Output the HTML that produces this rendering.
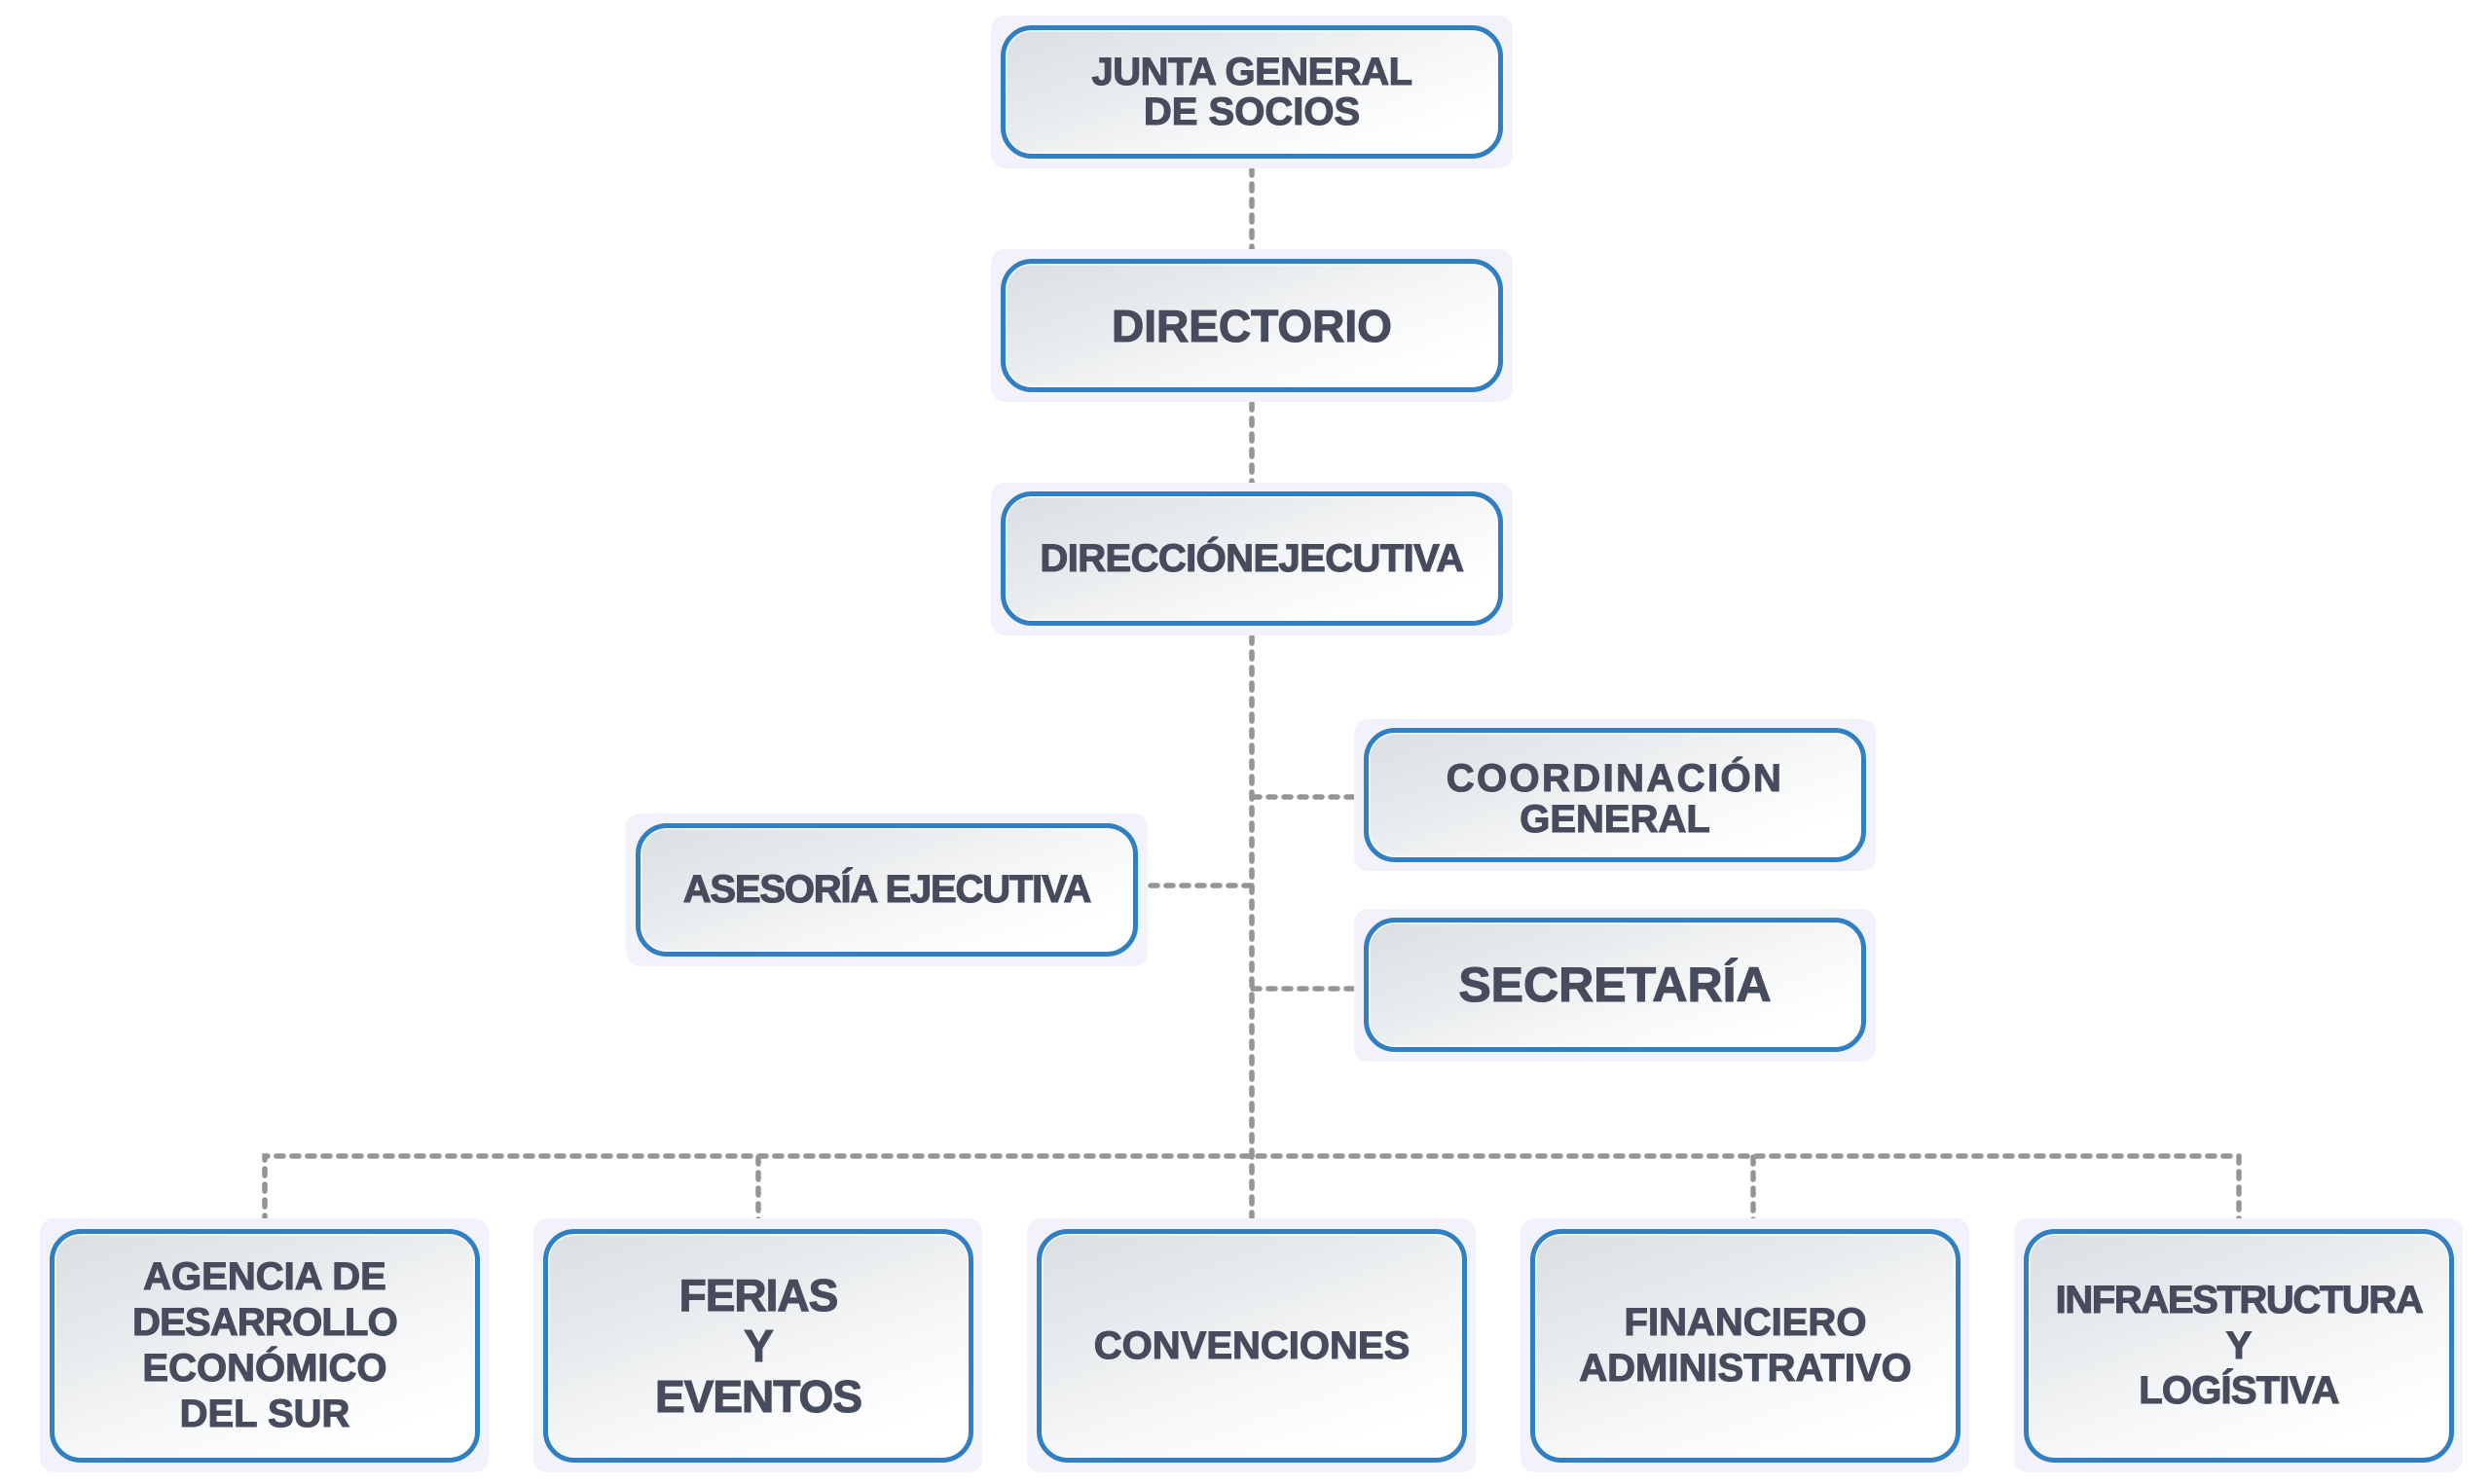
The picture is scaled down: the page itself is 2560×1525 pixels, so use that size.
<!DOCTYPE html>
<html>
<head>
<meta charset="utf-8">
<style>
  html, body { margin:0; padding:0; }
  body { width:2560px; height:1525px; position:relative; background:#ffffff; overflow:hidden; }
  .bg { position:absolute; background:#f2f2fb; border-radius:14px; }
  .box {
    position:absolute; box-sizing:border-box;
    border:5px solid #2f7fc2; border-radius:32px;
    background:linear-gradient(160deg, #dadfe2 0%, #e9ecee 35%, #f6f7f8 60%, #ffffff 85%);
    box-shadow: inset 0 0 0 1.5px rgba(255,255,255,0.75);
    display:flex; align-items:center; justify-content:center; text-align:center;
    font-family:"Liberation Sans", Arial, sans-serif; font-weight:bold; color:#464c5d;
    -webkit-text-stroke:1.1px #464c5d;
    font-size:40px; line-height:41px;
  }
  svg { position:absolute; left:0; top:0; }
</style>
</head>
<body>

<svg width="2560" height="1525" viewBox="0 0 2560 1525">
  <g fill="none" stroke="#959595" stroke-width="5.5" stroke-linecap="round" stroke-dasharray="7 9">
    <line x1="1286" y1="173" x2="1286" y2="257"/>
    <line x1="1286" y1="414" x2="1286" y2="497"/>
    <line x1="1286" y1="654" x2="1286" y2="1257"/>
    <line x1="1287" y1="819" x2="1393" y2="819"/>
    <line x1="1285" y1="910" x2="1181" y2="910"/>
    <line x1="1287" y1="1016" x2="1393" y2="1016"/>
    <path d="M272 1256 L272 1188 L2300 1188 L2300 1256"/>
    <line x1="779" y1="1189" x2="779" y2="1256"/>
    <line x1="1801" y1="1189" x2="1801" y2="1256"/>
  </g>
</svg>

<!-- JUNTA GENERAL -->
<div class="bg" style="left:1018px;top:16px;width:536px;height:157px;"></div>
<div class="box" style="left:1028px;top:26px;width:516px;height:137px;">
  <div><span style="letter-spacing:-0.5px">JUNTA GENERAL</span><br>DE SOCIOS</div>
</div>

<!-- DIRECTORIO -->
<div class="bg" style="left:1018px;top:256px;width:536px;height:157px;"></div>
<div class="box" style="left:1028px;top:266px;width:516px;height:137px;font-size:46px;line-height:48px;">
  <div>DIRECTORIO</div>
</div>

<!-- DIRECCION EJECUTIVA -->
<div class="bg" style="left:1018px;top:496px;width:536px;height:157px;"></div>
<div class="box" style="left:1028px;top:505px;width:516px;height:138px;">
  <div style="letter-spacing:-0.6px">DIRECCIÓNEJECUTIVA</div>
</div>

<!-- ASESORIA -->
<div class="bg" style="left:643px;top:836px;width:536px;height:157px;"></div>
<div class="box" style="left:653px;top:846px;width:516px;height:137px;">
  <div style="letter-spacing:-1.2px">ASESORÍA EJECUTIVA</div>
</div>

<!-- COORDINACION -->
<div class="bg" style="left:1391px;top:739px;width:536px;height:156px;"></div>
<div class="box" style="left:1401px;top:748px;width:516px;height:138px;line-height:42px;padding-top:8px;">
  <div><span style="letter-spacing:2.4px">COORDINACIÓN</span><br>GENERAL</div>
</div>

<!-- SECRETARIA -->
<div class="bg" style="left:1391px;top:934px;width:536px;height:157px;"></div>
<div class="box" style="left:1401px;top:943px;width:516px;height:138px;font-size:50px;line-height:52px;">
  <div>SECRETARÍA</div>
</div>

<!-- Bottom row -->
<div class="bg" style="left:41px;top:1252px;width:461px;height:261px;"></div>
<div class="box" style="left:51px;top:1263px;width:442px;height:240px;line-height:47px;">
  <div>AGENCIA DE<br><span style="letter-spacing:-0.8px">DESARROLLO</span><br>ECONÓMICO<br>DEL SUR</div>
</div>

<div class="bg" style="left:548px;top:1252px;width:461px;height:261px;"></div>
<div class="box" style="left:558px;top:1263px;width:442px;height:240px;font-size:46px;line-height:52px;">
  <div style="letter-spacing:-1px">FERIAS<br>Y<br>EVENTOS</div>
</div>

<div class="bg" style="left:1055px;top:1252px;width:461px;height:261px;"></div>
<div class="box" style="left:1065px;top:1263px;width:442px;height:240px;">
  <div>CONVENCIONES</div>
</div>

<div class="bg" style="left:1562px;top:1252px;width:461px;height:261px;"></div>
<div class="box" style="left:1572px;top:1263px;width:442px;height:240px;line-height:47px;">
  <div>FINANCIERO<br>ADMINISTRATIVO</div>
</div>

<div class="bg" style="left:2069px;top:1252px;width:461px;height:261px;"></div>
<div class="box" style="left:2079px;top:1263px;width:442px;height:240px;line-height:46.5px;">
  <div><span style="letter-spacing:-1.4px">INFRAESTRUCTURA</span><br>Y<br><span style="letter-spacing:-0.8px">LOGÍSTIVA</span></div>
</div>

</body>
</html>
